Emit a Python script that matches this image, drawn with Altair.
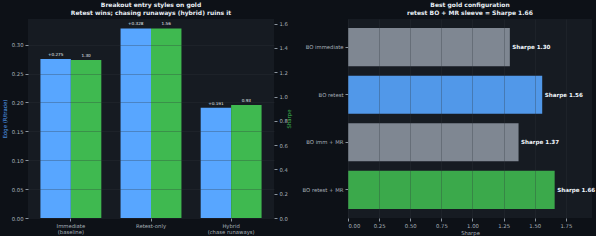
import altair as alt
import pandas as pd

# ---- data: left panel (entry styles) ----
styles = ["Immediate|(baseline)", "Retest-only", "Hybrid|(chase runaways)"]
style_edge = [0.275, 0.328, 0.191]
style_sharpe = [1.30, 1.56, 0.93]

# ---- data: right panel (configurations) ----
configs = ["BO immediate", "BO retest", "BO imm + MR", "BO retest + MR"]
config_sharpe = [1.30, 1.56, 1.37, 1.66]

BLUE = "#58a6ff"
GREEN = "#3fb950"
GRAY = "#8b949e"
config_colors = [GRAY, BLUE, GRAY, GREEN]

FONT = "DejaVu Sans"
TXT = "#e6edf3"

df_left = pd.DataFrame({
    "style": styles,
    "edge": style_edge,
    "sharpe": style_sharpe,
})
df_left["edge_text"] = [f"{v:+.3f}" for v in style_edge]
df_left["sharpe_text"] = [f"{v:.2f}" for v in style_sharpe]

df_right = pd.DataFrame({"config": configs, "sharpe": config_sharpe})
df_right["label"] = [f"Sharpe {v:.2f}" for v in config_sharpe]

x_enc = alt.X(
    "style:N", sort=styles, title=None,
    scale=alt.Scale(paddingInner=0.24, paddingOuter=0.155),
    axis=alt.Axis(labelAngle=0, labelExpr="split(datum.label, '|')",
                  labelLineHeight=6, grid=False, labelPadding=2),
)
off = alt.XOffset("series:N", scale=alt.Scale(domain=["edge", "sharpe"]))

y_edge = alt.Y(
    "edge:Q",
    scale=alt.Scale(domain=[0, 0.3444], nice=False, zero=True),
    axis=alt.Axis(title="Edge (R/trade)", titleColor=BLUE, orient="left",
                  values=[0, 0.05, 0.10, 0.15, 0.20, 0.25, 0.30], format=".2f",
                  grid=True, zindex=1, titlePadding=4),
)
y_sharpe = alt.Y(
    "sharpe:Q",
    scale=alt.Scale(domain=[0, 1.638], nice=False, zero=True),
    axis=alt.Axis(title="Sharpe", titleColor=GREEN, orient="right", titleAngle=270,
                  values=[0, 0.2, 0.4, 0.6, 0.8, 1.0, 1.2, 1.4, 1.6], format=".1f",
                  grid=False, titlePadding=4),
)

edge_base = alt.Chart(df_left).transform_calculate(series="'edge'")
sh_base = alt.Chart(df_left).transform_calculate(series="'sharpe'")

edge_bars = edge_base.mark_bar(color=BLUE).encode(x=x_enc, xOffset=off, y=y_edge)
edge_txt = edge_base.mark_text(baseline="bottom", dy=-2, fontSize=4.2, color=TXT, font=FONT).encode(
    x=x_enc, xOffset=off, y=y_edge, text="edge_text:N")
sh_bars = sh_base.mark_bar(color=GREEN).encode(x=x_enc, xOffset=off, y=y_sharpe)
sh_txt = sh_base.mark_text(baseline="bottom", dy=-2, fontSize=4.2, color=TXT, font=FONT).encode(
    x=x_enc, xOffset=off, y=y_sharpe, text="sharpe_text:N")

left = alt.layer(
    alt.layer(edge_bars, edge_txt),
    alt.layer(sh_bars, sh_txt),
).resolve_scale(y="independent").properties(
    width=246, height=199,
    title=alt.TitleParams(
        text=["Breakout entry styles on gold", "Retest wins; chasing runaways (hybrid) ruins it"],
        fontSize=6, fontWeight="bold", color=TXT, font=FONT, anchor="middle",
        frame="group", offset=3, lineHeight=8),
)

y_cfg = alt.Y("config:N", sort=configs, title=None,
              scale=alt.Scale(paddingInner=0.2, paddingOuter=0.19),
              axis=alt.Axis(grid=False, labelPadding=2))
x_cfg = alt.X("sharpe:Q", title="Sharpe",
              scale=alt.Scale(domain=[0, 1.96], nice=False),
              axis=alt.Axis(values=[0, 0.25, 0.5, 0.75, 1.0, 1.25, 1.5, 1.75], format=".2f",
                            grid=True, zindex=1, titlePadding=2))

cfg_bars = alt.Chart(df_right).mark_bar(opacity=0.9).encode(
    y=y_cfg, x=x_cfg,
    color=alt.Color("config:N", scale=alt.Scale(domain=configs, range=config_colors), legend=None),
)
cfg_txt = alt.Chart(df_right).mark_text(align="left", dx=2.5, fontSize=5.6, fontWeight="bold",
                                        color="#f0f6fc", font=FONT).encode(
    y=y_cfg, x=x_cfg, text="label:N")

right = alt.layer(cfg_bars, cfg_txt).properties(
    width=244, height=199,
    title=alt.TitleParams(
        text=["Best gold configuration", "retest BO + MR sleeve = Sharpe 1.66"],
        fontSize=6, fontWeight="bold", color=TXT, font=FONT, anchor="middle",
        frame="group", offset=3, lineHeight=8),
)

chart = alt.hconcat(left, right, spacing=10).configure(
    background="#0d1117",
    padding={"left": 2, "top": 2, "right": 0, "bottom": 0},
).configure_view(
    fill="#161b22", stroke=None,
).configure_axis(
    labelFont=FONT, titleFont=FONT, labelFontSize=5.3, titleFontSize=5.3,
    titleFontWeight="normal", labelColor="#a8b1bb", titleColor="#a8b1bb",
    tickColor="#8b949e", tickSize=3, domain=False,
    gridColor="#30363d", gridOpacity=0.3,
)

chart.save("out.html", embed_options={"renderer": "svg", "actions": False})
